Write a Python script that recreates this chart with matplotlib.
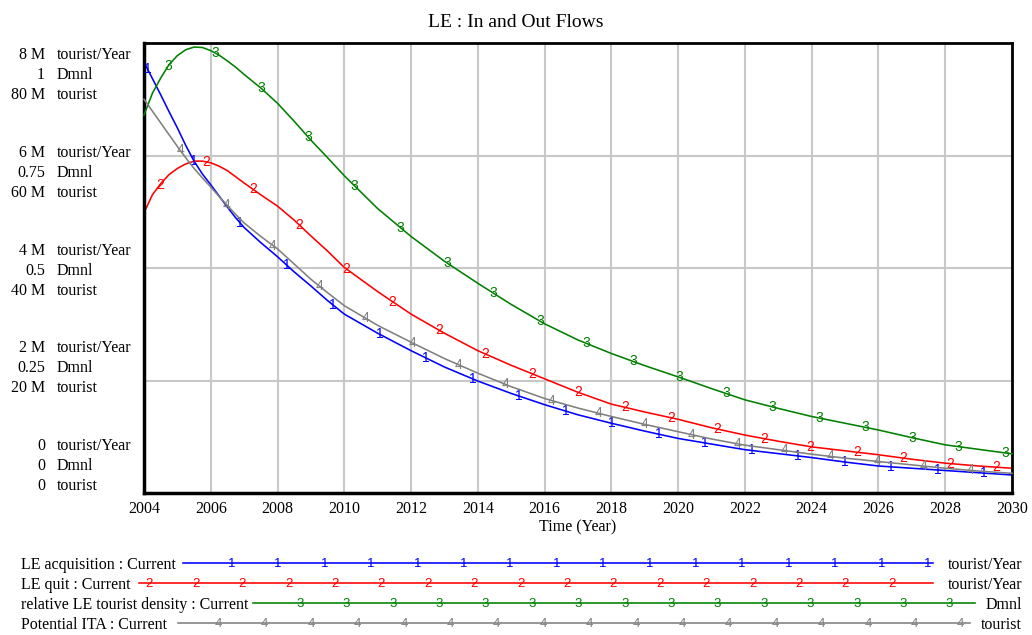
import matplotlib.pyplot as plt
import numpy as np

plt.rcParams['font.family'] = 'Liberation Serif'

# simulation output, 2004-2030 (quarter steps through the early peak)
years = [2004, 2004.25, 2004.5, 2004.75, 2005, 2005.25, 2005.5, 2005.75, 2006, 2006.25,
         2006.5, 2006.75, 2007, 2007.5, 2008, 2008.5, 2009, 2009.5,
         2010, 2011, 2012, 2013, 2014, 2015, 2016, 2017, 2018, 2019, 2020,
         2021, 2022, 2023, 2024, 2025, 2026, 2027, 2028, 2029, 2030]

# million tourist/Year
le_acquisition = [7.66, 7.37, 7.08, 6.78, 6.49, 6.18, 5.90, 5.67, 5.48, 5.28,
                  5.08, 4.89, 4.72, 4.45, 4.20, 3.93, 3.68, 3.42,
                  3.18, 2.84, 2.53, 2.24, 1.99, 1.77, 1.57, 1.39, 1.24, 1.10, 0.97,
                  0.87, 0.77, 0.70, 0.63, 0.55, 0.48, 0.44, 0.40, 0.36, 0.32]
le_quit = [4.98, 5.30, 5.50, 5.66, 5.77, 5.85, 5.90, 5.90, 5.87, 5.81,
           5.73, 5.62, 5.51, 5.30, 5.10, 4.85, 4.57, 4.30,
           4.01, 3.58, 3.18, 2.84, 2.53, 2.27, 2.03, 1.79, 1.58, 1.44, 1.31,
           1.16, 1.03, 0.92, 0.82, 0.75, 0.68, 0.60, 0.53, 0.48, 0.44]
# Dmnl
rel_density = [0.840, 0.888, 0.922, 0.952, 0.972, 0.985, 0.991, 0.990, 0.983, 0.973,
               0.960, 0.946, 0.930, 0.900, 0.866, 0.826, 0.784, 0.745,
               0.705, 0.632, 0.570, 0.515, 0.466, 0.419, 0.376, 0.340, 0.310, 0.283, 0.258,
               0.232, 0.207, 0.188, 0.170, 0.155, 0.140, 0.123, 0.107, 0.097, 0.087]
# million tourist
potential_ita = [70.0, 67.9, 65.8, 63.7, 61.6, 59.6, 57.7, 56.0, 54.4, 52.7,
                 51.1, 49.5, 48.0, 45.6, 43.4, 40.7, 38.0, 35.6,
                 33.3, 29.8, 26.8, 23.9, 21.3, 18.9, 16.8, 15.1, 13.6, 12.2, 10.9,
                 9.6, 8.5, 7.7, 6.9, 6.2, 5.6, 5.0, 4.4, 3.9, 3.5]

names = ['LE acquisition : Current', 'LE quit : Current',
         'relative LE tourist density : Current', 'Potential ITA : Current']
units = ['tourist/Year', 'tourist/Year', 'Dmnl', 'tourist']
colors = ['#0000ff', '#ff0000', '#008000', '#808080']
marks = ['1', '2', '3', '4']
mark_start = [2004.1, 2004.48, 2004.73, 2005.08]
mark_step = 1.392

W, H = 1032, 635
fig = plt.figure(figsize=(W / 100, H / 100), dpi=100)

# overlay in pixel coordinates for labels and the legend block
ov = fig.add_axes([0, 0, 1, 1], zorder=0)
ov.set_xlim(0, W)
ov.set_ylim(H, 0)
ov.axis('off')

x0, x1, ytop, ybot = 144, 1012, 43, 493
ax = fig.add_axes([x0 / W, 1 - ybot / H, (x1 - x0) / W, (ybot - ytop) / H], zorder=2)
ax_d = ax.twinx()
ax_t = ax.twinx()

ax.set_xlim(2004, 2030)
ax.set_ylim(0, 8)
ax_d.set_ylim(0, 1)
ax_t.set_ylim(0, 80)

ax.set_xticks(np.arange(2004, 2031, 2))
ax.set_yticks([0, 2, 4, 6, 8])
ax.grid(True, color='#c8c8c8', lw=1.5)
ax.tick_params(length=0, labelbottom=False, labelleft=False)
for a in (ax_d, ax_t):
    a.set_yticks([])
    for s in a.spines.values():
        s.set_visible(False)
for s in ax.spines.values():
    s.set_linewidth(2)
    s.set_color('black')
ax.spines['left'].set_linewidth(2.5)
ax.spines['bottom'].set_linewidth(2.5)

series = [(ax, le_acquisition), (ax, le_quit), (ax_d, rel_density), (ax_t, potential_ita)]
for (a, vals), c, m, st in zip(series, colors, marks, mark_start):
    a.plot(years, vals, color=c, lw=1.15, clip_on=False)
    for t in np.arange(st, 2030.01, mark_step):
        a.text(t, np.interp(t, years, vals), m, color=c, fontsize=10,
               family='Liberation Sans', ha='center', va='center')

# title and axis labels
ov.text(W / 2, 27, 'LE : In and Out Flows', fontsize=14, ha='center', va='baseline')
for yr in range(2004, 2031, 2):
    px = x0 + (yr - 2004) / 26 * (x1 - x0)
    ov.text(px, 513, str(yr), fontsize=11.5, ha='center', va='baseline')
ov.text((x0 + x1) / 2, 531, 'Time (Year)', fontsize=11.5, ha='center', va='baseline')

ytick_rows = [('8 M', '1', '80 M'), ('6 M', '0.75', '60 M'), ('4 M', '0.5', '40 M'),
              ('2 M', '0.25', '20 M'), ('0', '0', '0')]
row_units = ['tourist/Year', 'Dmnl', 'tourist']
for i, row in enumerate(ytick_rows):
    base = 59.3 + i * 97.7
    for j, (num, u) in enumerate(zip(row, row_units)):
        ov.text(45, base + j * 20, num, fontsize=11.5, ha='right', va='baseline')
        ov.text(57, base + j * 20, u, fontsize=11.5, ha='left', va='baseline')

# legend block
leg_y = [563, 583, 603, 623]
leg_x = [(183, 933, 231.7), (139, 933, 149.3), (253, 975, 300.0), (178, 970, 218.3)]
for name, u, c, m, ly, (lx0, lx1, mx) in zip(names, units, colors, marks, leg_y, leg_x):
    ov.text(21, ly + 6, name, fontsize=11.5, ha='left', va='baseline')
    ov.text(1022, ly + 6, u, fontsize=11.5, ha='right', va='baseline')
    ov.plot([lx0, lx1], [ly, ly], color=c, lw=1.15)
    for px in np.arange(mx, lx1 - 3, 46.4):
        ov.text(px, ly + 1, m, color=c, fontsize=9.5, family='Liberation Sans',
                ha='center', va='center')

fig.savefig('out.png', dpi=100)
